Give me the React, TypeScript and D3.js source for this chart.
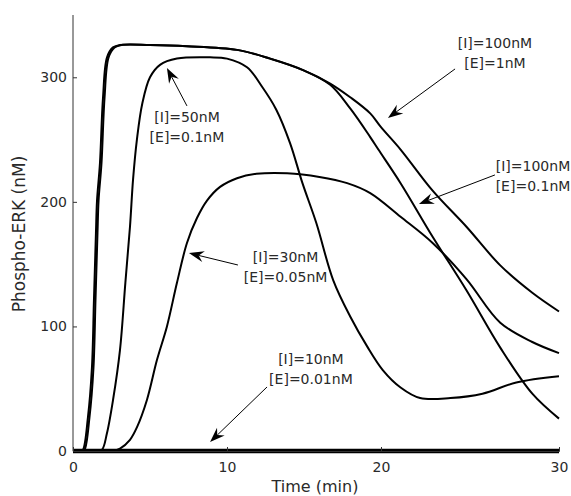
import * as d3 from 'd3';
import React, { useRef, useEffect } from 'react';

// time in minutes, phospho-ERK in nM
const timeA = [0, 0.5, 0.65, 0.97, 1.23, 1.36, 1.49, 1.56, 1.75, 1.95, 2.21, 2.6, 3.05, 5, 7.4, 10.65, 12.8, 14.9, 16.7, 18, 19.3, 20, 21.1, 22.9, 24.8, 26.7, 28.5, 30]
const valA = [0, 0, 1, 27, 67, 121, 175, 201, 231, 284, 316, 324, 326, 326, 325, 322, 315, 306, 295, 284, 271, 260, 242, 209, 180, 149, 127, 112]

const timeB = [0, 0.6, 0.75, 1.07, 1.33, 1.46, 1.59, 1.66, 1.85, 2.05, 2.31, 2.7, 3.15, 5, 7.4, 10.65, 12.8, 14.9, 16.7, 18, 19.3, 19.83, 21.1, 22.9, 24.8, 26.7, 28.5, 30]
const valB = [0, 0, 1, 27, 67, 121, 175, 201, 231, 284, 316, 324, 326, 326, 325, 322, 315, 306, 294, 275, 252, 242, 215, 172, 129, 83, 46, 26]

const timeC = [0, 1.5, 1.88, 2.2, 2.6, 3.05, 3.4, 3.7, 3.9, 4.15, 4.5, 5.0, 5.65, 6.75, 8.9, 10, 11.3, 12.3, 13.2, 14.1, 14.9, 15.8, 16.9, 18.0, 19.1, 20.1, 21.1, 22.2, 23.9, 25.7, 27.6, 30]
const valC = [0, 0, 1, 14, 41, 81, 135, 180, 218, 250, 279, 300, 310, 315, 316, 315, 308, 292, 274, 247, 215, 183, 137, 108, 84, 65, 51, 42.5, 42.5, 46, 55, 60]

const timeD = [0, 2.5, 3.05, 3.7, 4.15, 4.8, 5.45, 6.1, 6.75, 7.4, 8.05, 8.7, 9.55, 10.65, 11.9, 13.9, 16.0, 17.8, 19.3, 21.1, 22.9, 24.8, 26.7, 28.5, 30]
const valD = [0, 0, 2, 9, 19, 41, 73, 100, 135, 167, 187, 201, 212, 219, 222.5, 223, 220, 215, 207, 188, 167, 138, 103, 87.5, 78.6]

const timeE = [0, 30]
const valE = [0, 0]

const xTicks = [0, 10, 20, 30]
const yTicks = [0, 100, 200, 300]

// annotations: label lines, text anchor (t, v), arrow tail and head (t, v)
const annoText = [
    ['[I]=100nM', '[E]=1nM'],
    ['[I]=100nM', '[E]=0.1nM'],
    ['[I]=50nM', '[E]=0.1nM'],
    ['[I]=30nM', '[E]=0.05nM'],
    ['[I]=10nM', '[E]=0.01nM'],
]
const annoT = [26.4, 28.54, 7.4, 13.8, 15.45]
const annoV = [327.5, 228.8, 268.1, 155.7, 73.9]
const tailT = [24.16, 26.4, 7.4, 10.71, 12.6]
const tailV = [306.7, 221.6, 277, 149.3, 51.4]
const headT = [20.39, 22.13, 6.1, 7.53, 8.9]
const headV = [267.3, 198.3, 307.5, 158.9, 7.2]

const font = '"DejaVu Sans", Verdana, sans-serif'
const ink = '#2a2a2a'

export default function App() {
    const ref = useRef(null)

    useEffect(() => {
        const svg = d3.select(ref.current)
        svg.selectAll('*').remove()

        // the original axis is not evenly spaced, hence a piecewise scale
        const x = d3.scaleLinear().domain(xTicks).range([73, 227, 381, 559])
        const y = d3.scaleLinear().domain([0, 350]).range([451, 15])

        const line = d3.line()
            .x(d => x(d[0]))
            .y(d => y(d[1]))
            .curve(d3.curveCatmullRom.alpha(0.5))

        const series = [
            { t: timeE, v: valE, w: 4.5 },
            { t: timeD, v: valD, w: 2 },
            { t: timeC, v: valC, w: 2 },
            { t: timeB, v: valB, w: 2 },
            { t: timeA, v: valA, w: 2 },
        ]

        series.forEach(s => {
            svg.append('path')
                .datum(s.t.map((t, i) => [t, s.v[i]]))
                .attr('d', line)
                .attr('fill', 'none')
                .attr('stroke', '#000')
                .attr('stroke-width', s.w)
                .attr('stroke-linejoin', 'round')
        })

        const yAxis = svg.append('g')
            .attr('transform', 'translate(73,0)')
            .call(d3.axisLeft(y).tickValues(yTicks).tickSize(-4).tickPadding(6))
        yAxis.select('.domain').attr('d', `M0,${y(350)}V${y(0)}`).attr('stroke', '#333')
        yAxis.selectAll('text').style('font-family', font).style('font-size', '14px').attr('fill', ink)
        yAxis.selectAll('line').attr('stroke', '#333')

        const xAxis = svg.append('g')
            .attr('transform', 'translate(0,451)')
            .call(d3.axisBottom(x).tickValues(xTicks).tickSize(-4).tickPadding(11))
        xAxis.select('.domain').attr('stroke', '#333')
        xAxis.selectAll('text').style('font-family', font).style('font-size', '14px').attr('fill', ink)
        xAxis.selectAll('line').attr('stroke', '#333')

        svg.append('text')
            .attr('x', 315)
            .attr('y', 486)
            .attr('text-anchor', 'middle')
            .attr('dominant-baseline', 'central')
            .style('font-family', font)
            .style('font-size', '16px')
            .attr('fill', ink)
            .text('Time (min)')

        svg.append('text')
            .attr('transform', 'translate(19,234) rotate(-90)')
            .attr('text-anchor', 'middle')
            .attr('dominant-baseline', 'central')
            .style('font-family', font)
            .style('font-size', '17px')
            .attr('fill', ink)
            .text('Phospho-ERK (nM)')

        annoText.forEach((lines, i) => {
            lines.forEach((s, j) => {
                svg.append('text')
                    .attr('x', x(annoT[i]))
                    .attr('y', y(annoV[i]) + j * 20)
                    .attr('text-anchor', 'middle')
                    .attr('dominant-baseline', 'central')
                    .style('font-family', font)
                    .style('font-size', '14px')
                    .attr('fill', ink)
                    .text(s)
            })

            const x1 = x(tailT[i]), y1 = y(tailV[i])
            const x2 = x(headT[i]), y2 = y(headV[i])
            const a = Math.atan2(y2 - y1, x2 - x1)
            const c = Math.cos(a), s = Math.sin(a)
            const L = 15, hw = 5.5, notch = 10
            const nx = x2 - notch * c, ny = y2 - notch * s
            svg.append('line')
                .attr('x1', x1).attr('y1', y1)
                .attr('x2', nx).attr('y2', ny)
                .attr('stroke', '#000')
                .attr('stroke-width', 1)
            const pts = [
                [x2, y2],
                [x2 - L * c - hw * s, y2 - L * s + hw * c],
                [nx, ny],
                [x2 - L * c + hw * s, y2 - L * s - hw * c],
            ]
            svg.append('path')
                .attr('d', 'M' + pts.map(p => p.join(',')).join('L') + 'Z')
                .attr('fill', '#000')
        })
    }, [])

    return (
        <svg ref={ref} width={571} height={496}
            style={{ position: 'absolute', left: 0, top: 0, background: '#fff' }} />
    )
}
